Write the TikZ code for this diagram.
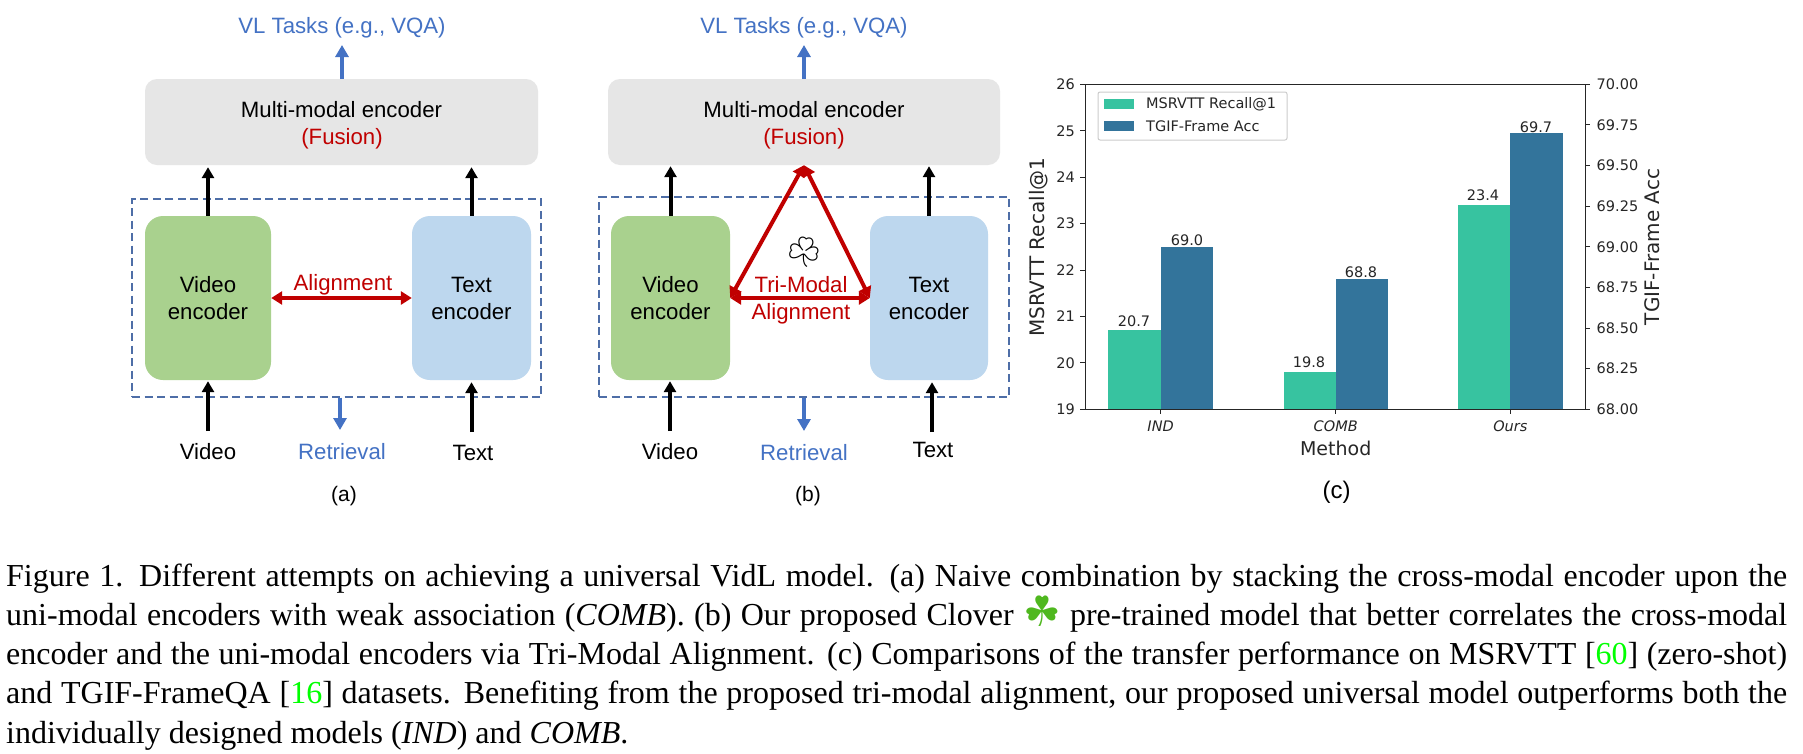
\documentclass[tikz,border=0pt]{standalone}
\usepackage{fontspec}
\usetikzlibrary{arrows.meta}
\setmainfont{Liberation Sans}
\newfontfamily\capfont{Liberation Serif}
\newfontfamily\plotfont{DejaVu Sans}
\newfontfamily\emojifont{Noto Emoji}
\definecolor{tblue}{HTML}{4472C4}
\definecolor{tred}{HTML}{C00000}
\definecolor{mgray}{HTML}{E6E6E6}
\definecolor{vgreen}{HTML}{A9D18E}
\definecolor{tbox}{HTML}{BDD7EE}
\definecolor{dashc}{HTML}{2F5597}
\definecolor{bargreen}{HTML}{37C3A0}
\definecolor{barblue}{HTML}{33749B}
\definecolor{ink}{HTML}{262626}
\definecolor{cite}{HTML}{00FF00}
\definecolor{clover}{HTML}{4FB81F}
\tikzset{
  lbl/.style={inner sep=0pt,anchor=base,font=\fontsize{22.2}{27}\selectfont,align=center},
  box/.style={inner sep=0pt,align=center,font=\fontsize{22.2}{27}\selectfont},
  multibox/.style={box,fill=mgray,rounded corners=12pt,minimum width=#1,minimum height=86pt},
  vidbox/.style={box,fill=vgreen,rounded corners=18pt,minimum width=#1,minimum height=164pt},
  txtbox/.style={box,fill=tbox,rounded corners=18pt,minimum width=#1,minimum height=164pt},
  dashbox/.style={draw=dashc!85,line width=1.2pt,dash pattern=on 8pt off 4.5pt,inner sep=0pt},
  blk/.style={line width=4pt,black,-{Triangle[width=12pt,length=11pt]}},
  blu/.style={line width=4pt,tblue,-{Triangle[width=13pt,length=12pt]}},
  rd/.style={line width=4pt,tred,{Triangle[width=13pt,length=11pt]}-{Triangle[width=13pt,length=11pt]}},
  capline/.style={inner sep=0pt,anchor=base west,font=\capfont\fontsize{32}{36}\selectfont},
  tick/.style={line width=1pt,ink},
  tl/.style={inner sep=0pt,font=\plotfont\fontsize{14.5}{14.5}\selectfont,text=ink},
  axl/.style={inner sep=0pt,font=\plotfont\fontsize{20}{20}\selectfont,text=ink},
  xl/.style={inner sep=0pt,font=\plotfont\fontsize{19}{19}\selectfont,text=ink}
}
\begin{document}
\begin{tikzpicture}[x=1pt,y=-1pt]
\fill[white] (0,0) rectangle (1803,753);
\useasboundingbox (0,0) rectangle (1803,753);

% --- panel (a)
\node[dashbox,minimum width=409pt,minimum height=198pt] (dA) at (336.5,298) {};
\node[multibox=393pt] (mA) at (341.5,122) {};
\node[lbl] (mAa) at (341.5,117) {Multi-modal encoder};
\node[lbl,text=tred] (mAb) at (342,144) {(Fusion)};
\node[vidbox=126pt] (vA) at (208,298) {Video\\encoder};
\node[txtbox=119pt] (tA) at (471.5,298) {Text\\encoder};
\node[lbl,text=tblue] (vlA) at (342,33) {VL Tasks (e.g., VQA)};
\node[lbl] (viA) at (208,459) {Video};
\node[lbl,text=tblue] (reA) at (342,459) {Retrieval};
\node[lbl] (teA) at (473,460) {Text};
\node[lbl,font=\fontsize{21}{21}\selectfont] (capA) at (344,501) {(a)};
\node[lbl,text=tred] (alA) at (343,290) {Alignment};
\coordinate (outA) at (342,45);
\coordinate (inVA) at (208,431);
\coordinate (inTA) at (471.5,432);
\coordinate (retA) at (340,430);
\draw[blu] (mA.north -| outA) -- (outA);
\draw[blk,shorten >=2pt] (vA.north) -- (vA.north |- mA.south);
\draw[blk,shorten >=2pt] (tA.north) -- (tA.north |- mA.south);
\draw[blk,shorten >=1pt] (inVA) -- (vA.south);
\draw[blk,shorten >=2pt] (inTA) -- (tA.south);
\draw[blu] (retA |- dA.south) -- (retA);
\draw[rd] (vA.east) -- (tA.west);

% --- panel (b)
\node[dashbox,minimum width=410pt,minimum height=200pt] (dB) at (804,297) {};
\node[multibox=392pt] (mB) at (804,122) {};
\node[lbl] (mBa) at (804,117) {Multi-modal encoder};
\node[lbl,text=tred] (mBb) at (804,144) {(Fusion)};
\node[vidbox=119pt] (vB) at (670.5,298) {Video\\encoder};
\node[txtbox=118pt] (tB) at (929,298) {Text\\encoder};
\node[lbl,text=tblue] (vlB) at (804,33) {VL Tasks (e.g., VQA)};
\node[lbl] (viB) at (670,459) {Video};
\node[lbl,text=tblue] (reB) at (804,460) {Retrieval};
\node[lbl] (teB) at (933,457) {Text};
\node[lbl,font=\fontsize{21}{21}\selectfont] (capB) at (808,501) {(b)};
\node[lbl,text=tred] (alB) at (801,292) {Tri-Modal};
\node[lbl,text=tred] (alC) at (801,319) {Alignment};
\node[inner sep=0pt,font=\emojifont\fontsize{30}{30}\selectfont] (clo) at (804,252) {☘};
\coordinate (outB) at (804,45);
\coordinate (inVB) at (670,431);
\coordinate (inTB) at (932,432);
\coordinate (retB) at (804,431);
\draw[blu] (mB.north) -- (outB);
\draw[blk,shorten >=1pt] (vB.north) -- (vB.north |- mB.south);
\draw[blk,shorten >=1pt] (tB.north) -- (tB.north |- mB.south);
\draw[blk,shorten >=1pt] (inVB) -- (inVB |- vB.south);
\draw[blk,shorten >=2pt] (inTB) -- (inTB |- tB.south);
\draw[blu] (dB.south) -- (retB);
\draw[rd] (vB.east) -- (tB.west);
\draw[rd] (vB.east) -- (mB.south);
\draw[rd] (tB.west) -- (mB.south);

% --- panel (c)
\fill[bargreen] (1108.4,409.3) rectangle (1160.6,330.4);
\fill[barblue]  (1160.6,409.3) rectangle (1213.2,246.8);
\fill[bargreen] (1283.5,409.3) rectangle (1335.7,372.2);
\fill[barblue]  (1335.7,409.3) rectangle (1387.8,279.3);
\fill[bargreen] (1458,409.3) rectangle (1510.3,205);
\fill[barblue]  (1510.3,409.3) rectangle (1562.5,133.4);
\draw[tick] (1085,84.3) rectangle (1585,409.3);
\foreach \v [count=\i from 0] in {19,...,26}
  {\draw[tick] (1085,409.3-\i*46.43) -- (1080,409.3-\i*46.43);
   \node[tl,anchor=east] at (1075,409.3-\i*46.43) {\v};}
\foreach \v [count=\i from 0] in {68.00,68.25,68.50,68.75,69.00,69.25,69.50,69.75,70.00}
  {\draw[tick] (1585,409.3-\i*40.625) -- (1590,409.3-\i*40.625);
   \node[tl,anchor=west] at (1596.5,409.3-\i*40.625) {\v};}
\foreach \x/\t in {1160.6/IND,1335.7/COMB,1510.3/Ours}
  {\draw[tick] (\x,409.3) -- (\x,414.3);
   \node[tl,font=\plotfont\itshape\fontsize{14.5}{14.5}\selectfont] at (\x,426.7) {\t};}
\foreach \x/\y/\t in {1134/321/20.7,1187/240.7/69.0,1309/362.7/19.8,1361/272.7/68.8,1483/195.7/23.4,1536/127/69.7}
  {\node[tl] at (\x,\y) {\t};}
\node[axl,rotate=90] (yl) at (1038.5,247.3) {MSRVTT Recall@1};
\node[axl,rotate=90] (yr) at (1652,247) {TGIF-Frame Acc};
\node[xl] (xlab) at (1335.7,448.7) {Method};
\node[inner sep=0pt,font=\fontsize{24}{24}\selectfont] (capC) at (1336.5,492.3) {(c)};
\draw[draw=black!20,fill=white,line width=1pt,rounded corners=2pt] (1098,92) rectangle (1287,140);
\fill[bargreen] (1104,99.3) rectangle (1134,109.3);
\fill[barblue] (1104,121.3) rectangle (1134,131.3);
\node[tl,anchor=west] (lg1) at (1146,104.3) {MSRVTT Recall@1};
\node[tl,anchor=west] (lg2) at (1146,126.3) {TGIF-Frame Acc};

% --- caption
\node[capline] (c1) at (6,586) {\makebox[1781pt][s]{Figure 1. Different attempts on achieving a universal VidL model. (a) Naive combination by stacking the cross-modal encoder upon the}};
\node[capline] (c2) at (6,625) {\makebox[1781pt][s]{uni-modal encoders with weak association (\textit{COMB}). (b) Our proposed Clover {\plotfont\fontsize{42}{42}\selectfont\textcolor{clover}{\raisebox{-1pt}{☘}}} pre-trained model that better correlates the cross-modal}};
\node[capline] (c3) at (6,664) {\makebox[1781pt][s]{encoder and the uni-modal encoders via Tri-Modal Alignment. (c) Comparisons of the transfer performance on MSRVTT [\textcolor{cite}{60}] (zero-shot)}};
\node[capline] (c4) at (6,703) {\makebox[1781pt][s]{and TGIF-FrameQA [\textcolor{cite}{16}] datasets. Benefiting from the proposed tri-modal alignment, our proposed universal model outperforms both the}};
\node[capline] (c5) at (6,743) {individually designed models (\textit{IND}) and \textit{COMB}.};
\end{tikzpicture}
\end{document}
